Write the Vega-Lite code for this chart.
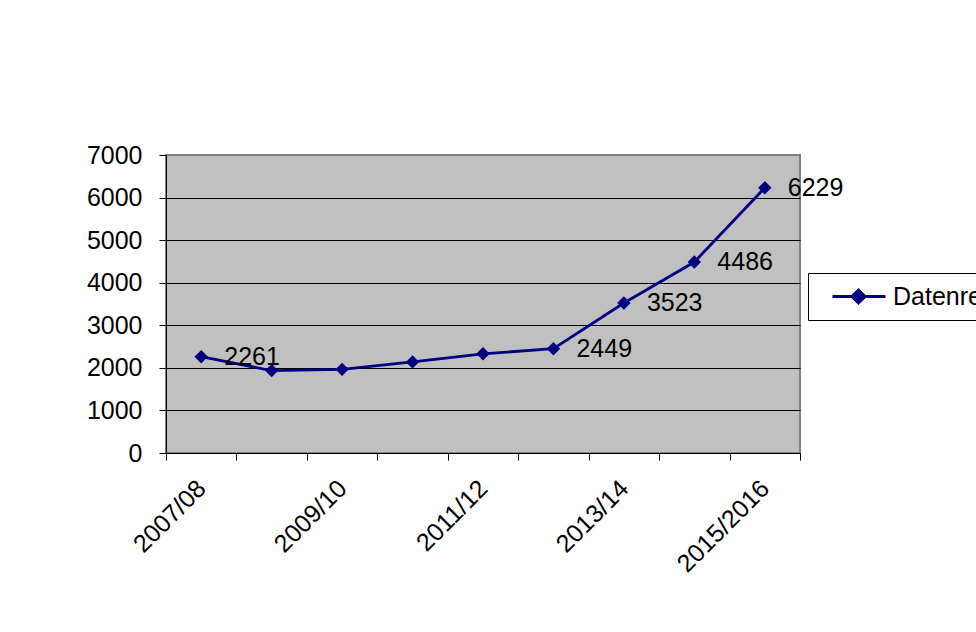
{
  "$schema": "https://vega.github.io/schema/vega-lite/v6.json",
  "width": 634,
  "height": 298,
  "autosize": {"type": "none"},
  "padding": {"left": 166, "top": 155, "right": 176, "bottom": 179},
  "background": "white",
  "config": {
    "font": "Liberation Sans",
    "view": {"fill": "#C0C0C0", "stroke": "#808080", "strokeWidth": 2},
    "axis": {
      "labelFont": "Liberation Sans",
      "labelFontSize": 25,
      "labelColor": "black",
      "domainColor": "black",
      "domainWidth": 1,
      "tickColor": "black",
      "tickSize": 7,
      "tickWidth": 1,
      "title": null
    }
  },
  "data": {
    "values": [
      {"year": "2007/08", "value": 2261, "labeled": true, "series": "Datenreihe1"},
      {"year": "2008/09", "value": 1935, "labeled": false, "series": "Datenreihe1"},
      {"year": "2009/10", "value": 1965, "labeled": false, "series": "Datenreihe1"},
      {"year": "2010/11", "value": 2140, "labeled": false, "series": "Datenreihe1"},
      {"year": "2011/12", "value": 2330, "labeled": false, "series": "Datenreihe1"},
      {"year": "2012/13", "value": 2449, "labeled": true, "series": "Datenreihe1"},
      {"year": "2013/14", "value": 3523, "labeled": true, "series": "Datenreihe1"},
      {"year": "2014/15", "value": 4486, "labeled": true, "series": "Datenreihe1"},
      {"year": "2015/2016", "value": 6229, "labeled": true, "series": "Datenreihe1"}
    ]
  },
  "layer": [
    {
      "mark": {"type": "line", "color": "#000080", "strokeWidth": 2.8},
      "encoding": {
        "x": {
          "field": "year",
          "type": "nominal",
          "sort": null,
          "bandPosition": 0.5,
          "scale": {"type": "band", "paddingInner": 0, "paddingOuter": 0},
          "axis": {
            "tickBand": "extent",
            "grid": false,
            "labelAngle": -45,
            "labelAlign": "right",
            "labelBaseline": "middle",
            "labelPadding": 24,
            "labelOverlap": false,
            "labelLimit": 0,
            "labelExpr": "indexof(['2007/08','2009/10','2011/12','2013/14','2015/2016'], datum.value) >= 0 ? datum.label : ''"
          }
        },
        "y": {
          "field": "value",
          "type": "quantitative",
          "scale": {"domain": [0, 7000], "nice": false},
          "axis": {
            "values": [0, 1000, 2000, 3000, 4000, 5000, 6000, 7000],
            "format": "d",
            "grid": true,
            "gridColor": {"condition": {"test": "datum.value === 7000", "value": "#808080"}, "value": "black"},
            "gridWidth": 1,
            "labelPadding": 17,
            "labelBaseline": "middle"
          }
        },
        "color": {
          "field": "series",
          "type": "nominal",
          "scale": {"range": ["#000080"]},
          "legend": {
            "orient": "none",
            "legendX": 642,
            "legendY": 118,
            "title": null,
            "symbolType": "M0.08,0L4.5,0M2.25,-0.55L2.8,0L2.25,0.55L1.7,0Z",
            "symbolSize": 576,
            "symbolStrokeWidth": 2.8,
            "labelFont": "Liberation Sans",
            "labelFontSize": 25,
            "labelColor": "black",
            "labelOffset": 48,
            "labelLimit": 0,
            "padding": 10,
            "strokeColor": "black",
            "fillColor": "white",
            "encode": {
              "symbols": {
                "update": {
                  "fill": {"value": "#000080"},
                  "stroke": {"value": "#000080"},
                  "strokeWidth": {"value": 2.8},
                  "opacity": {"value": 1}
                }
              }
            }
          }
        }
      }
    },
    {
      "mark": {"type": "point", "shape": "diamond", "filled": true, "size": 180, "color": "#000080", "opacity": 1},
      "encoding": {
        "x": {"field": "year", "type": "nominal", "sort": null, "bandPosition": 0.5},
        "y": {"field": "value", "type": "quantitative"}
      }
    },
    {
      "transform": [{"filter": "datum.labeled"}],
      "mark": {"type": "text", "align": "left", "baseline": "middle", "dx": 23, "fontSize": 25, "font": "Liberation Sans", "color": "black"},
      "encoding": {
        "x": {"field": "year", "type": "nominal", "sort": null, "bandPosition": 0.5},
        "y": {"field": "value", "type": "quantitative"},
        "text": {"field": "value", "type": "quantitative", "format": "d"}
      }
    }
  ]
}
